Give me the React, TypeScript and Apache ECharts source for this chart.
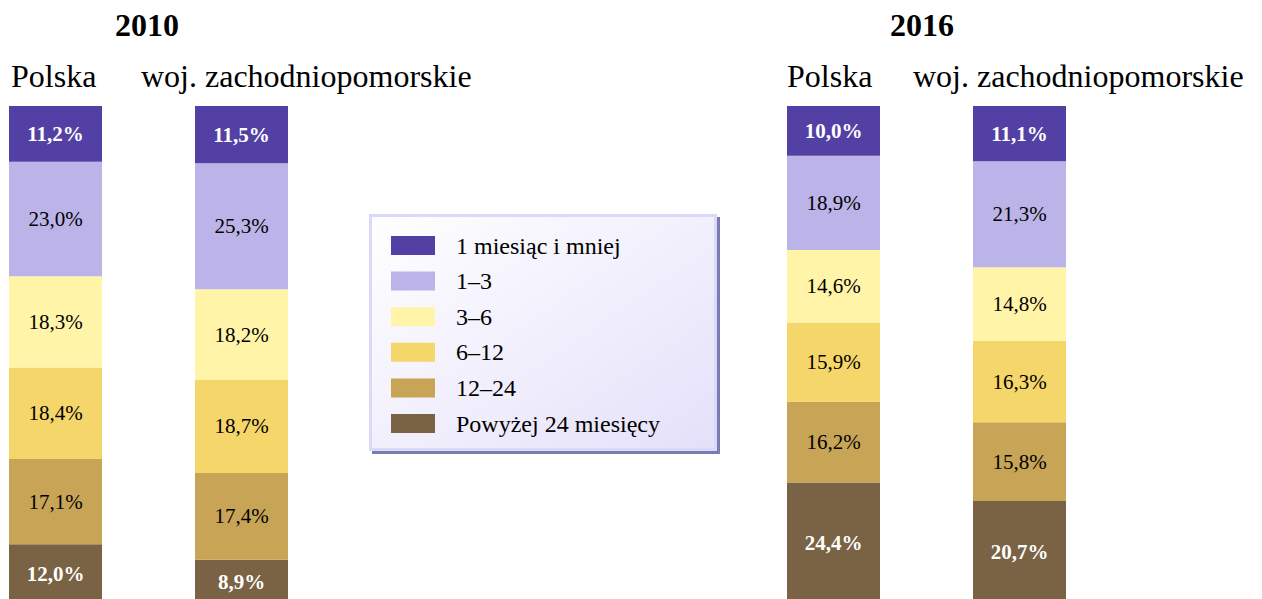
import React, { useEffect, useRef } from "react";
import * as echarts from "echarts";

const FONT = "'Times New Roman', 'Liberation Serif', serif";

const years = ["2010", "2016"];
const categories = ["Polska", "woj. zachodniopomorskie"];
const seriesNames = [
  "1 miesiąc i mniej",
  "1–3",
  "3–6",
  "6–12",
  "12–24",
  "Powyżej 24 miesięcy",
];
const colors = ["#5340a4", "#bcb3e8", "#fff4a8", "#f5d66a", "#c8a556", "#7a6244"];

// values per series (top → bottom), each [Polska, woj. zachodniopomorskie]
const values2010 = [
  [11.2, 11.5],
  [23.0, 25.3],
  [18.3, 18.2],
  [18.4, 18.7],
  [17.1, 17.4],
  [12.0, 8.9],
];
const values2016 = [
  [10.0, 11.1],
  [18.9, 21.3],
  [14.6, 14.8],
  [15.9, 16.3],
  [16.2, 15.8],
  [24.4, 20.7],
];

const yearValues = [values2010, values2016];

export default function App() {
  const ref = useRef<HTMLDivElement>(null);

  useEffect(() => {
    if (!ref.current) return;
    const chart = echarts.init(ref.current, null, { renderer: "svg" });

    const series: any[] = [];
    yearValues.forEach((vals, g) => {
      for (let s = seriesNames.length - 1; s >= 0; s--) {
        const dark = s === 0 || s === seriesNames.length - 1;
        series.push({
          type: "bar",
          name: seriesNames[s],
          stack: "stack" + g,
          xAxisIndex: g,
          yAxisIndex: g,
          barWidth: 93,
          clip: false,
          silent: true,
          data: vals[s],
          itemStyle: { color: colors[s] },
          label: {
            show: true,
            position: "inside",
            formatter: (p: any) => p.value.toFixed(1).replace(".", ",") + "%",
            color: dark ? "#ffffff" : "#000000",
            fontWeight: dark ? "bold" : "normal",
            fontSize: 21,
            fontFamily: FONT,
          },
          emphasis: { disabled: true },
        });
      }
    });

    const gridLefts = [55.5, 833.5];
    const yearX = [147, 922];
    const polskaX = [11, 787];
    const wojX = [141, 913];

    const graphic: any[] = [
      {
        type: "rect",
        z: -10,
        shape: { x: 372, y: 217, width: 348, height: 237 },
        style: { fill: "#7b7bb3" },
      },
      {
        type: "rect",
        z: -9,
        shape: { x: 370.5, y: 215.5, width: 345, height: 234 },
        style: {
          fill: new echarts.graphic.LinearGradient(0, 0, 1, 1, [
            { offset: 0, color: "#ffffff" },
            { offset: 1, color: "#e5e0fa" },
          ]),
          stroke: "#d9d9f8",
          lineWidth: 3,
        },
      },
    ];
    years.forEach((y, i) => {
      graphic.push({
        type: "text",
        x: yearX[i],
        y: 25,
        style: {
          text: y,
          font: `bold 32px ${FONT}`,
          fill: "#000",
          align: "center",
          verticalAlign: "middle",
        },
      });
      graphic.push({
        type: "text",
        x: polskaX[i],
        y: 76,
        style: {
          text: categories[0],
          font: `32px ${FONT}`,
          fill: "#000",
          align: "left",
          verticalAlign: "middle",
        },
      });
      graphic.push({
        type: "text",
        x: wojX[i],
        y: 76,
        style: {
          text: categories[1],
          font: `32px ${FONT}`,
          fill: "#000",
          align: "left",
          verticalAlign: "middle",
        },
      });
    });

    chart.setOption({
      animation: false,
      backgroundColor: "#ffffff",
      grid: gridLefts.map((l) => ({ left: l, width: 186, top: 106, bottom: 0 })),
      xAxis: gridLefts.map((_, i) => ({
        type: "category",
        gridIndex: i,
        data: categories,
        boundaryGap: false,
        show: false,
      })),
      yAxis: gridLefts.map((_, i) => ({
        type: "value",
        gridIndex: i,
        min: 1,
        max: 100,
        show: false,
      })),
      legend: {
        orient: "vertical",
        left: 391,
        top: 233.5,
        padding: 0,
        itemWidth: 44,
        itemHeight: 19,
        itemGap: 11.6,
        icon: "rect",
        selectedMode: false,
        data: seriesNames,
        textStyle: {
          fontSize: 24,
          lineHeight: 24,
          fontFamily: FONT,
          color: "#000",
          padding: [0, 0, 0, 16],
        },
      },
      graphic,
      series,
    });

    return () => chart.dispose();
  }, []);

  return (
    <div
      ref={ref}
      style={{ position: "absolute", left: 0, top: 0, width: 1262, height: 599 }}
    />
  );
}
